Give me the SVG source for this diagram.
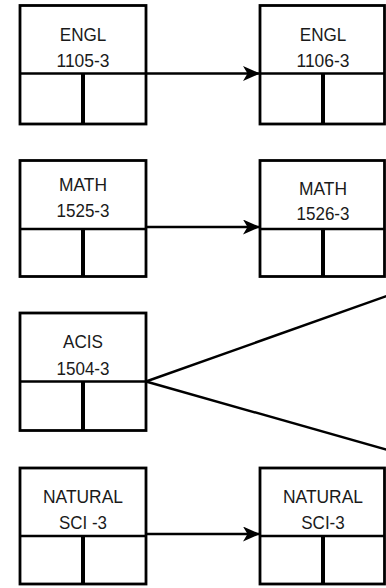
<svg xmlns="http://www.w3.org/2000/svg" width="386" height="588" viewBox="0 0 386 588">
<style>
.box{fill:#fff;stroke:#000;stroke-width:2.8}
.div{stroke:#000;stroke-width:2.5}
.vdiv{stroke:#000;stroke-width:4}
.lbl{font-family:"Liberation Sans",Arial,sans-serif;font-size:18.5px;fill:#1a1a1a;text-anchor:middle}
.conn{fill:none;stroke:#000;stroke-width:2.4}
</style>
<defs>
<marker id="arr" viewBox="0 0 17 15" refX="17" refY="7.5" markerWidth="17" markerHeight="15" orient="auto" markerUnits="userSpaceOnUse">
<path d="M0,0 L17,7.5 L0,15 L4.5,7.5 Z" fill="#000"/>
</marker>
</defs>
<rect width="386" height="588" fill="#fff"/>
<g id="connectors">
<line class="conn" x1="146" y1="73.5" x2="260" y2="73.5" marker-end="url(#arr)"/>
<line class="conn" x1="146" y1="227" x2="260" y2="227" marker-end="url(#arr)"/>
<line class="conn" x1="146" y1="381.5" x2="388" y2="295.5"/>
<line class="conn" x1="146" y1="381.5" x2="388" y2="450"/>
<line class="conn" x1="146" y1="534" x2="260" y2="534" marker-end="url(#arr)"/>
</g>
<g id="engl1105">
<rect class="box" x="20" y="5.5" width="126" height="118.5"/>
<line class="div" x1="20" y1="73.5" x2="146" y2="73.5"/>
<line class="vdiv" x1="83" y1="73.5" x2="83" y2="124"/>
<text class="lbl" x="83" y="41" textLength="46.5" lengthAdjust="spacingAndGlyphs">ENGL</text>
<text class="lbl" x="83" y="67" textLength="53" lengthAdjust="spacingAndGlyphs">1105-3</text>
</g>
<g id="engl1106">
<rect class="box" x="260" y="5.5" width="124.5" height="118.5"/>
<line class="div" x1="260" y1="73.5" x2="384.5" y2="73.5"/>
<line class="vdiv" x1="323" y1="73.5" x2="323" y2="124"/>
<text class="lbl" x="323" y="41" textLength="46.5" lengthAdjust="spacingAndGlyphs">ENGL</text>
<text class="lbl" x="323" y="67" textLength="53" lengthAdjust="spacingAndGlyphs">1106-3</text>
</g>
<g id="math1525">
<rect class="box" x="20" y="160.5" width="126" height="116"/>
<line class="div" x1="20" y1="229" x2="146" y2="229"/>
<line class="vdiv" x1="83" y1="229" x2="83" y2="276.5"/>
<text class="lbl" x="83" y="191" textLength="48" lengthAdjust="spacingAndGlyphs">MATH</text>
<text class="lbl" x="83" y="217" textLength="53" lengthAdjust="spacingAndGlyphs">1525-3</text>
</g>
<g id="math1526">
<rect class="box" x="260" y="160.5" width="124.5" height="116"/>
<line class="div" x1="260" y1="229" x2="384.5" y2="229"/>
<line class="vdiv" x1="323" y1="229" x2="323" y2="276.5"/>
<text class="lbl" x="323" y="195" textLength="48" lengthAdjust="spacingAndGlyphs">MATH</text>
<text class="lbl" x="323" y="220" textLength="53" lengthAdjust="spacingAndGlyphs">1526-3</text>
</g>
<g id="acis1504">
<rect class="box" x="20" y="313" width="126" height="117.5"/>
<line class="div" x1="20" y1="381.5" x2="146" y2="381.5"/>
<line class="vdiv" x1="83" y1="381.5" x2="83" y2="430.5"/>
<text class="lbl" x="83" y="348" textLength="40" lengthAdjust="spacingAndGlyphs">ACIS</text>
<text class="lbl" x="83" y="375" textLength="53" lengthAdjust="spacingAndGlyphs">1504-3</text>
</g>
<g id="natsci1">
<rect class="box" x="20" y="468" width="126" height="116"/>
<line class="div" x1="20" y1="536" x2="146" y2="536"/>
<line class="vdiv" x1="83" y1="536" x2="83" y2="584"/>
<text class="lbl" x="83" y="502.5" textLength="80" lengthAdjust="spacingAndGlyphs">NATURAL</text>
<text class="lbl" x="83" y="529" textLength="48" lengthAdjust="spacingAndGlyphs">SCI -3</text>
</g>
<g id="natsci2">
<rect class="box" x="260" y="468" width="124.5" height="116"/>
<line class="div" x1="260" y1="536" x2="384.5" y2="536"/>
<line class="vdiv" x1="323" y1="536" x2="323" y2="584"/>
<text class="lbl" x="323" y="502.5" textLength="80" lengthAdjust="spacingAndGlyphs">NATURAL</text>
<text class="lbl" x="323" y="529" textLength="43.5" lengthAdjust="spacingAndGlyphs">SCI-3</text>
</g>
</svg>
